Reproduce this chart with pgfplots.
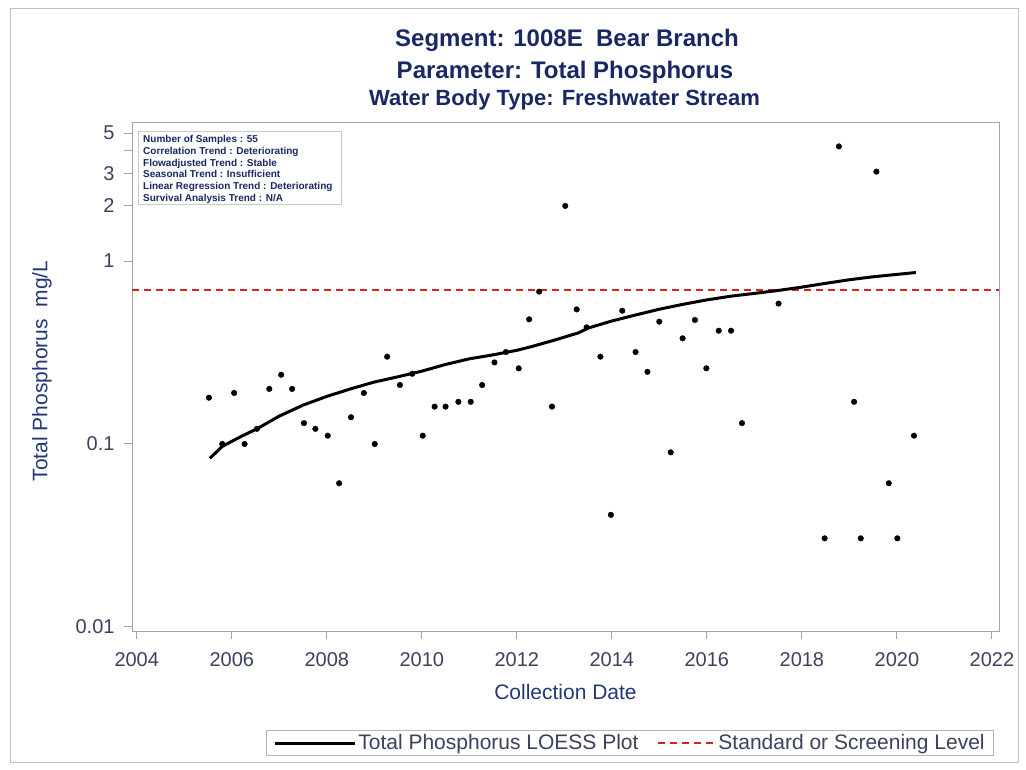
\documentclass[border=0pt]{standalone}
\usepackage{pgfplots}
\pgfplotsset{compat=1.18}
\usepackage{pgfplotstable}
\usepackage{fontspec}
\setmainfont{Liberation Sans}
\definecolor{titlecol}{RGB}{25,40,100}
\definecolor{labcol}{RGB}{35,55,120}
\definecolor{tickcol}{RGB}{60,65,95}
\definecolor{framecol}{RGB}{165,165,165}
\definecolor{refred}{RGB}{210,35,35}
\newcommand{\fs}[1]{\fontsize{#1}{#1}\selectfont}
\pgfplotsset{
  blackleg/.style={legend image code/.code={\draw[##1] (0bp,0bp) -- (80bp,0bp);}},
  redleg/.style={legend image code/.code={\draw[##1] (0bp,0bp) -- (58bp,0bp);}},
}

\pgfplotstableread{
x y
2005.52 0.179
2005.80 0.100
2006.05 0.190
2006.27 0.100
2006.53 0.121
2006.79 0.200
2007.04 0.239
2007.27 0.200
2007.52 0.130
2007.76 0.121
2008.02 0.111
2008.26 0.061
2008.51 0.140
2008.78 0.190
2009.01 0.100
2009.27 0.300
2009.54 0.210
2009.80 0.242
2010.02 0.111
2010.27 0.160
2010.50 0.160
2010.77 0.170
2011.03 0.170
2011.27 0.210
2011.53 0.279
2011.77 0.318
2012.04 0.259
2012.26 0.480
2012.47 0.680
2012.74 0.160
2013.02 2.00
2013.26 0.544
2013.47 0.434
2013.76 0.300
2013.98 0.041
2014.22 0.535
2014.50 0.318
2014.75 0.248
2015.00 0.466
2015.24 0.090
2015.49 0.378
2015.75 0.476
2015.99 0.259
2016.25 0.416
2016.51 0.416
2016.74 0.130
2017.51 0.585
2018.48 0.0305
2018.78 4.23
2019.10 0.170
2019.24 0.0305
2019.57 3.08
2019.83 0.061
2020.01 0.0305
2020.36 0.111
}\samples

\pgfplotstableread{
x y
2005.54 0.0835
2005.80 0.097
2006.20 0.110
2006.53 0.121
2007.00 0.142
2007.50 0.163
2008.00 0.182
2008.50 0.200
2009.00 0.218
2009.50 0.233
2010.00 0.250
2010.50 0.272
2011.00 0.292
2011.50 0.307
2012.00 0.325
2012.30 0.340
2012.80 0.370
2013.30 0.405
2013.50 0.430
2014.00 0.470
2014.50 0.507
2015.00 0.545
2015.50 0.580
2016.00 0.613
2016.50 0.642
2017.00 0.665
2017.50 0.690
2018.00 0.720
2018.50 0.755
2019.00 0.790
2019.50 0.820
2020.00 0.845
2020.40 0.865
}\loess

\begin{document}
\begin{tikzpicture}
\path (0bp,0bp) rectangle (1026bp,770bp);
\draw[framecol!70, line width=0.8bp] (10bp,8bp) rectangle (1018bp,762bp);
\begin{axis}[
  at={(132bp,139bp)}, anchor=south west,
  scale only axis, width=867bp, height=508bp,
  xmin=2003.9, xmax=2022.15,
  ymode=log, ymin=0.0095, ymax=5.68,
  axis line style={framecol, line width=1bp},
  tick style={framecol, line width=1bp},
  tick align=outside, major tick length=8bp,
  xtick pos=lower, ytick pos=left,
  yminorticks=false,
  xtick={2004,2006,...,2022},
  xticklabels={2004,2006,2008,2010,2012,2014,2016,2018,2020,2022},
  ytick={0.01,0.1,1,2,3,4,5},
  yticklabels={0.01,0.1,1,2,3,,5},
  /pgf/number format/assume math mode=true,
  ticklabel style={font=\fs{20bp}, text=tickcol},
  xticklabel style={yshift=-10bp},
  yticklabel style={xshift=-6bp},
  xlabel={Collection Date},
  ylabel={Total Phosphorus\ \ mg/L},
  label style={font=\fs{21bp}, text=labcol},
  xlabel style={at={(axis description cs:0.5,-0.12)}, anchor=center},
  ylabel style={at={(axis description cs:-0.104,0.512)}, anchor=center},
  legend style={at={(axis description cs:0.5744,-0.2205)}, anchor=center,
    draw=framecol!80, line width=0.8bp, font=\fs{21bp}, text=tickcol,
    inner xsep=7bp, inner ysep=2bp},
  legend columns=2,
  /tikz/every even column/.append style={column sep=16bp},
  clip=false,
]
\addplot[refred, line width=2bp, dash pattern=on 7bp off 5bp, forget plot]
  coordinates {(2003.9,0.69) (2022.15,0.69)};
\addplot[only marks, mark=*, mark size=2.8bp, black, forget plot] table[x=x,y=y] {\samples};
\addplot[black, line width=3bp, blackleg] table[x=x,y=y] {\loess};
\addlegendentry{Total Phosphorus LOESS Plot}
\addlegendimage{refred, line width=2bp, dash pattern=on 7bp off 5bp, redleg}
\addlegendentry{Standard or Screening Level}
\end{axis}
% titles
\node[anchor=base, text=titlecol, font=\fs{24bp}\bfseries] at (567bp,723.3bp) {Segment: 1008E\ \ Bear Branch};
\node[anchor=base, text=titlecol, font=\fs{24bp}\bfseries] at (565bp,691.7bp) {Parameter: Total Phosphorus};
\node[anchor=base, text=titlecol, font=\fs{22bp}\bfseries] at (564.5bp,664.3bp) {Water Body Type: Freshwater Stream};
% info box
\draw[framecol!60, line width=0.8bp, fill=white] (138bp,639bp) rectangle (341bp,566bp);
\foreach \t [count=\i from 0] in {Number of Samples : 55,Correlation Trend : Deteriorating,Flowadjusted Trend : Stable,Seasonal Trend : Insufficient,Linear Regression Trend : Deteriorating,Survival Analysis Trend : N/A}{
  \node[anchor=base west, inner sep=0pt, text=titlecol, font=\fs{10bp}\bfseries] at (143bp,{(627.5-11.8*\i)*1bp}) {\t};
}
\end{tikzpicture}
\end{document}
